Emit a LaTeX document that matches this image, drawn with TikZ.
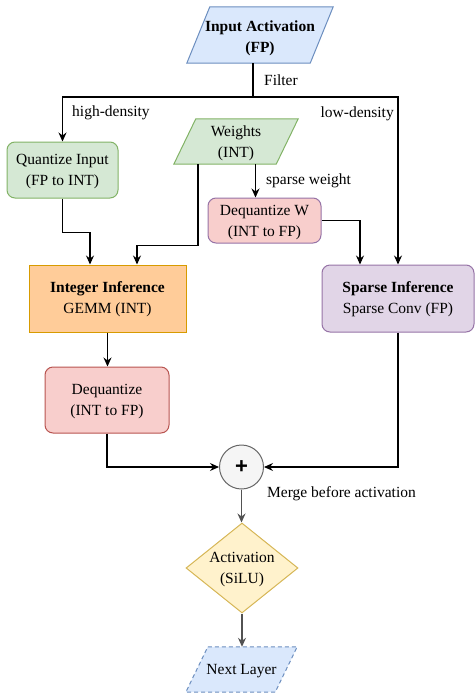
\documentclass[tikz,border=0pt]{standalone}
\usepackage{fontspec}
\setmainfont{Liberation Serif}
\newfontfamily\plusfont{Liberation Sans}
\usetikzlibrary{arrows.meta,shapes.geometric,backgrounds,calc}
\definecolor{blueF}{HTML}{DAE8FC}\definecolor{blueS}{HTML}{6C8EBF}
\definecolor{greenF}{HTML}{D5E8D4}\definecolor{greenS}{HTML}{82B366}
\definecolor{redF}{HTML}{F8CECC}\definecolor{redS}{HTML}{B85450}
\definecolor{purpF}{HTML}{E1D5E7}\definecolor{purpS}{HTML}{9673A6}
\definecolor{orF}{HTML}{FFCC99}\definecolor{orS}{HTML}{D79B00}
\definecolor{yeF}{HTML}{FFF2CC}\definecolor{yeS}{HTML}{D6B656}
\definecolor{grF}{HTML}{F5F5F5}\definecolor{grS}{HTML}{666666}
\tikzset{
  txt/.style={font=\fontsize{15.5}{21}\selectfont, align=center, inner sep=0pt, yshift=-2pt},
  box/.style={rectangle, line width=1pt, inner sep=0pt},
  rbox/.style={box, rounded corners=8pt},
  para/.style={rectangle, inner sep=0pt},
  arr/.style={line width=1.1pt, -{Stealth[length=9pt,width=8pt,inset=3pt]}},
  arrgray/.style={arr, draw=grS!80!black},
  lbl/.style={font=\fontsize{15.5}{17}\selectfont, inner sep=0pt},
}
\begin{document}
\begin{tikzpicture}[x=1pt,y=-1pt]
\useasboundingbox (0,0) rectangle (475,694);
% Parallelogram frames
\node[para, minimum width=146pt, minimum height=56pt] (ia) at (260,35) {};
\node[para, minimum width=124pt, minimum height=45pt] (w) at (236,141.5) {};
\node[para, minimum width=111pt, minimum height=45pt] (nl) at (241.5,669.5) {};
\draw[line width=1pt, draw=blueS, fill=blueF] ($(ia.north west)+(23,0)$) -- (ia.north east) -- ($(ia.south east)+(-23,0)$) -- (ia.south west) -- cycle;
\draw[line width=1pt, draw=greenS, fill=greenF] ($(w.north west)+(22,0)$) -- (w.north east) -- ($(w.south east)+(-22,0)$) -- (w.south west) -- cycle;
\draw[line width=1pt, draw=blueS, fill=blueF, dashed, dash pattern=on 4pt off 3pt] ($(nl.north west)+(22,0)$) -- (nl.north east) -- ($(nl.south east)+(-22,0)$) -- (nl.south west) -- cycle;
\node[txt, yshift=-1pt] (iat) at (ia) {\textbf{Input Activation}\\\textbf{(FP)}};
\node[txt] (wt) at (w) {Weights\\(INT)};
\node[txt] (nlt) at (nl) {Next Layer};
% Boxes
\node[rbox, draw=greenS, fill=greenF, minimum width=111pt, minimum height=56pt] (qi) at (62.5,170) {};
\node[txt] (qit) at (qi) {Quantize Input\\(FP to INT)};
\node[rbox, draw=purpS, fill=redF, minimum width=113pt, minimum height=45pt] (dw) at (264.5,220.5) {};
\node[txt] (dwt) at (dw) {Dequantize W\\(INT to FP)};
\node[box, draw=orS, fill=orF, minimum width=157pt, minimum height=67pt] (ii) at (107.5,298.5) {};
\node[txt, yshift=1pt] (iit) at (ii) {\textbf{Integer Inference}\\GEMM (INT)};
\node[rbox, draw=purpS, fill=purpF, minimum width=152pt, minimum height=67pt] (si) at (398,298.5) {};
\node[txt, yshift=1pt] (sit) at (si) {\textbf{Sparse Inference}\\Sparse Conv (FP)};
\node[rbox, draw=redS, fill=redF, minimum width=124pt, minimum height=66pt] (dq) at (107,400) {};
\node[txt] (dqt) at (dq) {Dequantize\\(INT to FP)};
\node[circle, line width=1pt, draw=grS, fill=grF, minimum size=44pt, inner sep=0pt] (plus) at (241.5,467) {};
\node[inner sep=0pt] (plust) at (plus) {\plusfont\fontsize{22}{22}\selectfont\bfseries +};
\node[diamond, line width=1pt, draw=yeS, fill=yeF, minimum width=112pt, minimum height=90pt, inner sep=0pt] (act) at (242,568) {};
\node[txt] (actt) at (act) {Activation\\(SiLU)};
% Connectors
\coordinate (split) at (253,97);
\draw[line width=1.1pt] (ia.south -| split) -- (split);
\draw[arr] (split) -| (qi.north);
\draw[arr] (split) -| (si.north);
\draw[arr] (qi.south) -- ++(0,34) -| ([xshift=-17.5pt]ii.north);
\draw[arr] ([xshift=-38pt]w.south) -- ++(0,81) -| ([xshift=29.5pt]ii.north);
\draw[arr] ([xshift=19.5pt]w.south) -- ([xshift=19.5pt]w.south |- dw.north);
\draw[arr] (dw.east) -| ([xshift=-38pt]si.north);
\draw[arr] (ii.south) -- (ii.south |- dq.north);
\draw[arr] (dq.south) |- (plus.west);
\draw[arr] (si.south) |- (plus.east);
\draw[arrgray] (plus.south) -- (plus.south |- act.north);
\draw[arrgray] (act.south) -- (act.south |- nl.north);
% Labels
\node[lbl, anchor=west] (lf) at (264,80) {Filter};
\node[lbl, anchor=west] (lh) at (72,113) {high-density};
\node[lbl, anchor=east] (ll) at (394,114) {low-density};
\node[lbl, anchor=west] (ls) at (266,181) {sparse weight};
\node[lbl, anchor=west] (lm) at (267,494) {Merge before activation};
\end{tikzpicture}
\end{document}
